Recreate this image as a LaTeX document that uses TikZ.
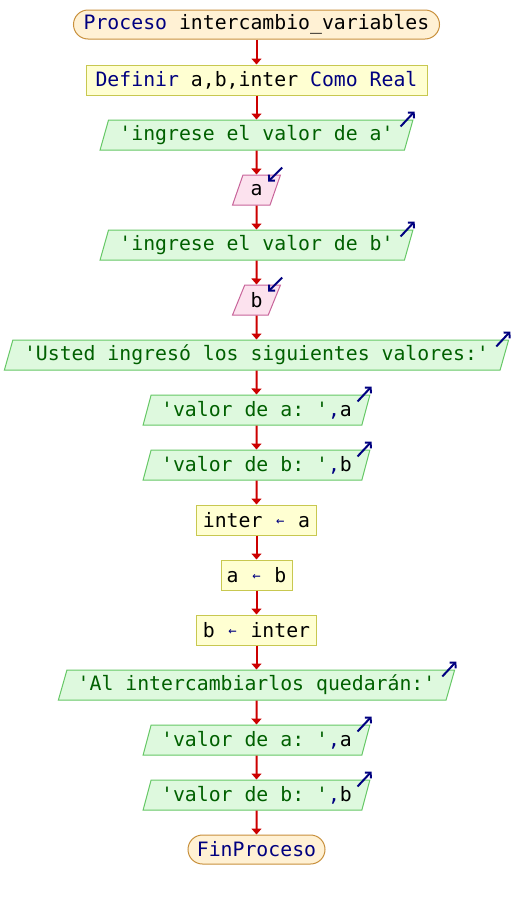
\documentclass[tikz,border=0pt]{standalone}
\usepackage{fontspec}
\setmonofont{DejaVu Sans Mono}
\usetikzlibrary{shapes.geometric,arrows.meta,calc}

\definecolor{kw}{HTML}{000080}
\definecolor{flowred}{HTML}{CC0000}
\definecolor{termfill}{HTML}{FFF1D4}
\definecolor{termline}{HTML}{C8903C}
\definecolor{boxfill}{HTML}{FFFFD2}
\definecolor{boxline}{HTML}{C8C850}
\definecolor{outfill}{HTML}{DEF9DE}
\definecolor{outline}{HTML}{66C866}
\definecolor{outtext}{HTML}{006000}
\definecolor{infill}{HTML}{FCE2EE}
\definecolor{inline}{HTML}{C8649A}

\tikzset{
  base/.style={line width=1pt, inner sep=0pt, minimum height=30pt, text=black},
  terminal/.style={base, rectangle, rounded corners=14.5pt, draw=termline, fill=termfill, minimum height=29pt},
  stepbox/.style={base, rectangle, draw=boxline, fill=boxfill},
  para/.style={base, trapezium, trapezium left angle=68, trapezium right angle=112,
    trapezium stretches=true},
  outbox/.style={para, draw=outline, fill=outfill, text=outtext},
  inbox/.style={para, draw=inline, fill=infill},
  flow/.style={draw=flowred, line width=2pt, -{Triangle[length=6pt,width=10pt]}},
  icon/.style={draw=kw, line width=2pt, -{Straight Barb[length=4pt,width=8.5pt]}},
}
% small arrow icons: output (up-right) and input (down-left)
\newcommand{\outicon}[1]{\draw[icon] ($(#1.top right corner)+(-13,7)$) -- ++(14,-15);}
\newcommand{\inicon}[1]{\draw[icon] ($(#1.top right corner)+(1,-7)$) -- ++(-14,14);}
% assignment arrow, kept in one monospace cell
\newcommand{\asg}{\makebox[0.602em]{\textcolor{kw}{\raisebox{0.1em}{\scalebox{0.7}{\char"2190}}}}}

\begin{document}
\begin{tikzpicture}[x=1pt, y=-1pt, font=\ttfamily\fontsize{19.8}{24}\selectfont]
\useasboundingbox[fill=white] (0,0) rectangle (512,900);

\node[terminal, minimum width=366pt] (start) at (256.5,24.5)
  {\textcolor{kw}{Proceso} intercambio\_variables};
\node[stepbox, minimum width=341pt] (def) at (256.5,80)
  {\textcolor{kw}{Definir} a,b,inter \textcolor{kw}{Como Real}};
\node[outbox, minimum width=313pt] (o1) at (256.5,135) {'ingrese el valor de a'};
\node[inbox, minimum width=48pt] (i1) at (256.5,190) {a};
\node[outbox, minimum width=313pt] (o2) at (256.5,245) {'ingrese el valor de b'};
\node[inbox, minimum width=48pt] (i2) at (256.5,300) {b};
\node[outbox, minimum width=505pt] (o3) at (256.5,355) {'Usted ingresó los siguientes valores:'};
\node[outbox, minimum width=227pt] (o4) at (256.5,410)
  {'valor de a: '\textcolor{kw}{,}\textcolor{black}{a}};
\node[outbox, minimum width=227pt] (o5) at (256.5,465)
  {'valor de b: '\textcolor{kw}{,}\textcolor{black}{b}};
\node[stepbox, minimum width=120pt] (s1) at (256.5,520) {inter \asg{} a};
\node[stepbox, minimum width=71pt] (s2) at (256.5,575) {a \asg{} b};
\node[stepbox, minimum width=120pt] (s3) at (256.5,630) {b \asg{} inter};
\node[outbox, minimum width=397pt] (o6) at (256.5,685) {'Al intercambiarlos quedarán:'};
\node[outbox, minimum width=227pt] (o7) at (256.5,740)
  {'valor de a: '\textcolor{kw}{,}\textcolor{black}{a}};
\node[outbox, minimum width=227pt] (o8) at (256.5,795)
  {'valor de b: '\textcolor{kw}{,}\textcolor{black}{b}};
\node[terminal, minimum width=137pt] (stop) at (256.5,849.5) {\textcolor{kw}{FinProceso}};

\foreach \a/\b in {start/def, def/o1, o1/i1, i1/o2, o2/i2, i2/o3, o3/o4, o4/o5,
                   o5/s1, s1/s2, s2/s3, s3/o6, o6/o7, o7/o8, o8/stop}
  \draw[flow] (\a) -- (\b);

\foreach \n in {o1, o2, o3, o4, o5, o6, o7, o8} { \outicon{\n} }
\foreach \n in {i1, i2} { \inicon{\n} }
\end{tikzpicture}
\end{document}
